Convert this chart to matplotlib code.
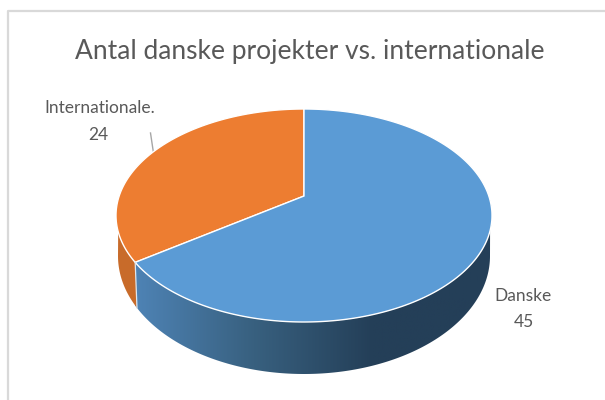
import numpy as np
import matplotlib
matplotlib.use('Agg')
import matplotlib.pyplot as plt
import matplotlib.patches as patches
from matplotlib.colors import LinearSegmentedColormap

# Chart data
title = 'Antal danske projekter vs. internationale'
categories = ['Danske', 'Internationale.']
values = [45, 24]
colors = ['#5B9BD5', '#ED7D31']

plt.rcParams['font.family'] = ['Lato', 'Open Sans', 'DejaVu Sans']
text_color = '#595959'

cx = 304
top_y, top_rx, top_ry = 215.5, 188, 106.5
low_y, low_rx, low_ry = 256, 186, 118
tilt = 0.183  # how far the pie centre sits above the ellipse centre


def rim(theta, y0, rx, ry):
    # theta runs counter clockwise from 12 o'clock, perspective like excel 3d pie
    px = -np.sin(theta)
    py = np.cos(theta)
    d = 1 + tilt * py
    xx = px * np.sqrt(1 - tilt ** 2) / d
    yy = (py + tilt) / d
    return cx + rx * xx, y0 - ry * yy


fig = plt.figure(figsize=(6.05, 4), dpi=100)
ax = fig.add_axes([0, 0, 1, 1])

# Chart frame, only left and top are in the crop
ax.plot([8, 8, 605], [400, 10.5, 10.5], color='#D9D9D9', lw=1.6)

ax.text(309.5, 51, title, ha='center', va='center', fontsize=19, color=text_color)

# Wall outline: lower half of the top ellipse, then back along the bottom ellipse
t = np.linspace(-0.14, np.pi + 0.16, 300)
rim_x = cx + top_rx * np.cos(t)
rim_y = top_y + top_ry * np.sin(t)
t2 = np.linspace(np.pi, 0, 300)
bot_x = cx + low_rx * np.cos(t2)
bot_y = low_y + low_ry * np.sin(t2)
wall = patches.Polygon(np.column_stack([np.r_[rim_x, bot_x], np.r_[rim_y, bot_y]]),
                       closed=True, fc='none', ec='none')
ax.add_patch(wall)

# Slice angle comes from the values
split = 2 * np.pi * values[1] / sum(values)
xs0, ys0 = rim(split, top_y, top_rx, top_ry)
xs1, ys1 = rim(split, low_y, low_rx, low_ry)

# Blue wall gradient
cmap = LinearSegmentedColormap.from_list('wall', ['#4E83B5', '#38607F', '#243F58', '#243F58'])
grad = np.linspace(0, 1, 256).reshape(1, -1)
im = ax.imshow(grad, extent=[135, 492, 400, 200], cmap=cmap, aspect='auto', zorder=1)
im.set_clip_path(wall)

# Orange wall, everything left of the seam
orange = ax.fill([100, xs0, xs1, xs1, 100], [200, ys0, ys1, 400, 400], color='#C86B2A', lw=0, zorder=1.5)[0]
orange.set_clip_path(wall)

# Top surface
apex = (cx, top_y - top_ry * tilt)
th_a = np.linspace(0, split, 200)
xa, ya = rim(th_a, top_y, top_rx, top_ry)
ax.fill(np.r_[apex[0], xa], np.r_[apex[1], ya], fc=colors[1], ec='white', lw=1, zorder=2)
th_b = np.linspace(split, 2 * np.pi, 300)
xb, yb = rim(th_b, top_y, top_rx, top_ry)
ax.fill(np.r_[apex[0], xb], np.r_[apex[1], yb], fc=colors[0], ec='white', lw=1, zorder=2)

# Seam on the wall
ax.plot([xs0, xs1], [ys0, ys1], color='#DDE6EE', lw=0.9, zorder=3)

# Labels
ax.text(100, 108, categories[1], ha='center', va='center', fontsize=12.5, color=text_color)
ax.text(98, 135, str(values[1]), ha='center', va='center', fontsize=12.5, color=text_color)
ax.plot([150.5, 153.5], [133, 153], color='#A6A6A6', lw=1, zorder=1)
ax.text(523.5, 296, categories[0], ha='center', va='center', fontsize=12.5, color=text_color)
ax.text(523.5, 322, str(values[0]), ha='center', va='center', fontsize=12.5, color=text_color)

ax.set_xlim(0, 605)
ax.set_ylim(400, 0)
ax.axis('off')

fig.savefig('out.png', dpi=100)
